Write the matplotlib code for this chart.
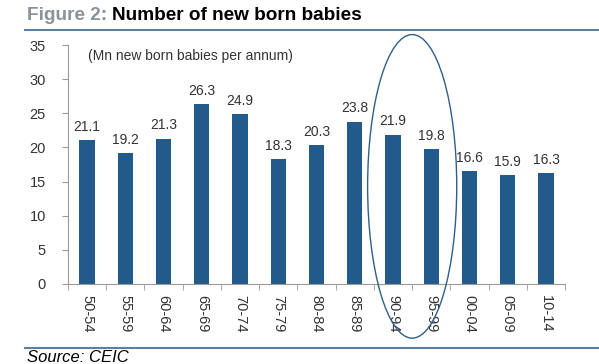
import matplotlib.pyplot as plt
import matplotlib.patches as patches
from matplotlib.lines import Line2D

# Data
periods = ['50-54', '55-59', '60-64', '65-69', '70-74', '75-79', '80-84',
           '85-89', '90-94', '95-99', '00-04', '05-09', '10-14']
babies = [21.1, 19.2, 21.3, 26.3, 24.9, 18.3, 20.3, 23.8, 21.9, 19.8, 16.6, 15.9, 16.3]
yticks = [0, 5, 10, 15, 20, 25, 30, 35]

plt.rcParams['font.family'] = ['Liberation Sans', 'DejaVu Sans']

bar_color = '#235a8c'
grey = '#333333'
rule_color = '#5b7f9e'

fig = plt.figure(figsize=(5.99, 3.64), dpi=100)
ax = fig.add_axes([0.1135, 0.22, 0.83, 0.656])

x = list(range(len(periods)))
ax.bar(x, babies, width=0.4, color=bar_color, zorder=2)

# value labels
for xi, v in zip(x, babies):
    ax.text(xi, v + 0.9, f'{v:.1f}', ha='center', va='bottom', fontsize=10, color=grey)

ax.set_xlim(-0.5, len(periods) - 0.5)
ax.set_ylim(0, 35)
ax.set_yticks(yticks)
ax.set_yticklabels([str(t) for t in yticks], fontsize=10.5, color=grey)

# x labels at centres, tick marks at boundaries
ax.set_xticks(x)
ax.set_xticklabels(periods, rotation=-90, fontsize=10.5, color=grey)
ax.tick_params(axis='x', which='major', length=0, pad=8)
ax.set_xticks([i - 0.5 for i in range(len(periods) + 1)], minor=True)
ax.tick_params(axis='x', which='minor', length=4, color='#999999', direction='out')
ax.tick_params(axis='y', length=4, color='#999999', pad=12)

for s in ['top', 'right']:
    ax.spines[s].set_visible(False)
for s in ['left', 'bottom']:
    ax.spines[s].set_color('#999999')
    ax.spines[s].set_linewidth(0.8)

ax.text(0.04, 0.985, '(Mn new born babies per annum)', transform=ax.transAxes,
        ha='left', va='top', fontsize=10, color=grey)

# highlight ellipse around 90-94 and 95-99
ell = patches.Ellipse((8.5, 14.3), 2.33, 44.5, fill=False, edgecolor='#2f5f8a',
                      linewidth=1.0, clip_on=False, zorder=3)
ax.add_patch(ell)

# title
t1 = fig.text(0.045, 0.958, 'Figure 2: ', fontsize=13.7, fontweight='bold',
              color='#8a929a', ha='left', va='center')
fig.canvas.draw()
bb = t1.get_window_extent()
fig.text(bb.x1 / fig.bbox.width, 0.958, 'Number of new born babies', fontsize=13.7,
         fontweight='bold', color='black', ha='left', va='center')

# rules
fig.add_artist(Line2D([0.042, 0.998], [0.918, 0.918], color=rule_color, linewidth=1.5))
fig.add_artist(Line2D([0.042, 0.998], [0.045, 0.045], color=rule_color, linewidth=1.5))

fig.text(0.045, 0.018, 'Source: CEIC', fontsize=12, fontstyle='italic',
         color='black', ha='left', va='center')

fig.savefig('out.png', dpi=100)
